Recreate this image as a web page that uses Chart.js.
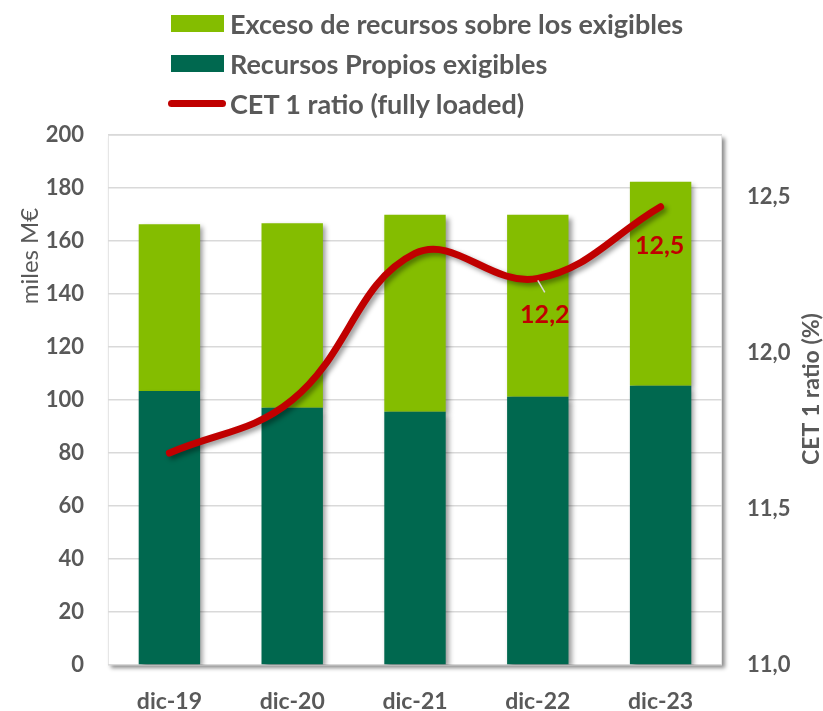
<!DOCTYPE html>
<html>
<head>
<meta charset="utf-8">
<script src="https://cdn.jsdelivr.net/npm/chart.js@4/dist/chart.umd.min.js"></script>
<style>
  html, body { margin: 0; padding: 0; background: #fff; }
  #wrap { position: relative; width: 823px; height: 711px; overflow: hidden; }
  #c { position: absolute; left: 0; top: 0; }
  #legend { position: absolute; left: 168px; top: 0; font-family: Lato, sans-serif; font-weight: bold; font-size: 27px; color: #595959; }
  .row { position: absolute; left: 0; height: 30px; display: flex; align-items: center; white-space: nowrap; }
  .sw { width: 53px; height: 17px; margin-left: 3px; margin-right: 6px; flex: none; }
  .ln { width: 58px; height: 7px; border-radius: 4px; margin-right: 4px; flex: none; }
</style>
</head>
<body>
<div id="wrap">
  <canvas id="c" width="823" height="711"></canvas>
  <div id="legend"></div>
</div>
<script>
const categories = ['dic-19', 'dic-20', 'dic-21', 'dic-22', 'dic-23'];
const recursosExigibles = [103.4, 97.1, 95.6, 101.2, 105.4];
const excesoRecursos = [62.9, 69.6, 74.3, 68.7, 77.0];
const cet1Ratio = [11.68, 11.85, 12.32, 12.24, 12.47];
const leftTicks = [0, 20, 40, 60, 80, 100, 120, 140, 160, 180, 200];
const rightTicks = [11.0, 11.5, 12.0, 12.5];
const labeledPoints = [3, 4];

const GRAY = '#595959';
const LIGHT = '#84BD00';
const DARK = '#00684F';
const RED = '#C00000';
const FONT = 'Lato, sans-serif';

Chart.defaults.font.family = FONT;
Chart.defaults.color = GRAY;

const fmt = v => v.toFixed(1).replace('.', ',');

const framePlugin = {
  id: 'frame',
  beforeDraw(chart) {
    const { ctx, chartArea: a } = chart;
    ctx.save();
    ctx.shadowColor = 'rgba(0,0,0,0.45)';
    ctx.shadowBlur = 4;
    ctx.shadowOffsetX = 3;
    ctx.shadowOffsetY = 3;
    ctx.fillStyle = '#fff';
    ctx.fillRect(a.left, a.top, a.right - a.left, a.bottom - a.top);
    ctx.restore();
    ctx.save();
    ctx.strokeStyle = '#e6e6e6';
    ctx.lineWidth = 1;
    ctx.strokeRect(a.left + 0.5, a.top + 0.5, a.right - a.left - 1, a.bottom - a.top - 1);
    ctx.restore();
  },
  beforeDatasetsDraw(chart) {
    const ctx = chart.ctx;
    ctx.save();
    ctx.shadowColor = 'rgba(0,0,0,0.4)';
    ctx.shadowBlur = 5;
    ctx.shadowOffsetX = 3;
    ctx.shadowOffsetY = 3;
  },
  afterDatasetsDraw(chart) {
    chart.ctx.restore();
    const ctx = chart.ctx;
    const meta = chart.getDatasetMeta(0);
    ctx.save();
    ctx.fillStyle = RED;
    ctx.font = 'bold 25px ' + FONT;
    ctx.textAlign = 'center';
    ctx.textBaseline = 'middle';
    labeledPoints.forEach(i => {
      const p = meta.data[i];
      if (i === 3) {
        ctx.strokeStyle = '#d9d9d9';
        ctx.lineWidth = 1.5;
        ctx.beginPath();
        ctx.moveTo(p.x, p.y + 2);
        ctx.lineTo(p.x + 7, p.y + 14);
        ctx.stroke();
        ctx.fillText(fmt(cet1Ratio[i]), p.x + 7, p.y + 37);
      } else {
        ctx.fillText(fmt(cet1Ratio[i]), p.x - 1, p.y + 39);
      }
    });
    ctx.restore();
  },
  afterDraw(chart) {
    const ctx = chart.ctx;
    ctx.save();
    ctx.fillStyle = GRAY;
    ctx.textAlign = 'center';
    ctx.textBaseline = 'middle';
    ctx.font = '24px ' + FONT;
    ctx.translate(30, 256);
    ctx.rotate(-Math.PI / 2);
    ctx.fillText('miles M€', 0, 0);
    ctx.restore();
    ctx.save();
    ctx.fillStyle = GRAY;
    ctx.textAlign = 'center';
    ctx.textBaseline = 'middle';
    ctx.font = 'bold 23px ' + FONT;
    ctx.translate(812, 389);
    ctx.rotate(-Math.PI / 2);
    ctx.fillText('CET 1 ratio (%)', 0, 0);
    ctx.restore();
  }
};

const chart = new Chart(document.getElementById('c'), {
  type: 'bar',
  data: {
    labels: categories,
    datasets: [
      {
        type: 'line',
        label: 'CET 1 ratio (fully loaded)',
        data: cet1Ratio,
        yAxisID: 'y2',
        borderColor: RED,
        backgroundColor: RED,
        borderWidth: 7,
        borderCapStyle: 'round',
        borderJoinStyle: 'round',
        pointRadius: 0,
        tension: 0.4,
        order: 0
      },
      {
        label: 'Recursos Propios exigibles',
        data: recursosExigibles,
        backgroundColor: DARK,
        stack: 's',
        yAxisID: 'y',
        order: 1
      },
      {
        label: 'Exceso de recursos sobre los exigibles',
        data: excesoRecursos,
        backgroundColor: LIGHT,
        stack: 's',
        yAxisID: 'y',
        order: 1
      }
    ]
  },
  options: {
    responsive: false,
    animation: false,
    layout: { padding: { top: 135, left: 0, right: 0, bottom: 0 } },
    plugins: { legend: { display: false }, tooltip: { enabled: false } },
    datasets: { bar: { categoryPercentage: 1, barPercentage: 0.5 } },
    scales: {
      x: {
        stacked: true,
        grid: { display: false, drawTicks: false },
        border: { display: false },
        ticks: { font: { size: 23, weight: 'bold' }, color: GRAY, padding: 23, maxRotation: 0 },
        afterFit(s) { s.height = 46; }
      },
      y: {
        stacked: true,
        position: 'left',
        min: 0, max: 200,
        afterBuildTicks(s) { s.ticks = leftTicks.map(v => ({ value: v })); },
        grid: { color: '#d9d9d9', lineWidth: 1.5, drawTicks: false },
        border: { display: false },
        ticks: { font: { size: 22, weight: 'bold' }, color: GRAY, padding: 24 },
        afterFit(s) { s.width = 108; }
      },
      y2: {
        position: 'right',
        min: 11.0, max: 12.7,
        afterBuildTicks(s) { s.ticks = rightTicks.map(v => ({ value: v })); },
        grid: { display: false, drawTicks: false },
        border: { display: false },
        ticks: { font: { size: 22, weight: 'bold' }, color: GRAY, padding: 25, callback: v => fmt(v) },
        afterFit(s) { s.width = 101; }
      }
    }
  },
  plugins: [framePlugin]
});

// HTML legend built from the chart's datasets
const legend = document.getElementById('legend');
const legendOrder = [2, 1, 0];
const rowTops = [8, 48, 88];
legendOrder.forEach((di, k) => {
  const ds = chart.data.datasets[di];
  const row = document.createElement('div');
  row.className = 'row';
  row.style.top = rowTops[k] + 'px';
  const sw = document.createElement('span');
  sw.className = ds.type === 'line' ? 'ln' : 'sw';
  sw.style.background = ds.type === 'line' ? ds.borderColor : ds.backgroundColor;
  const tx = document.createElement('span');
  tx.textContent = ds.label;
  row.appendChild(sw);
  row.appendChild(tx);
  legend.appendChild(row);
});
</script>
</body>
</html>
